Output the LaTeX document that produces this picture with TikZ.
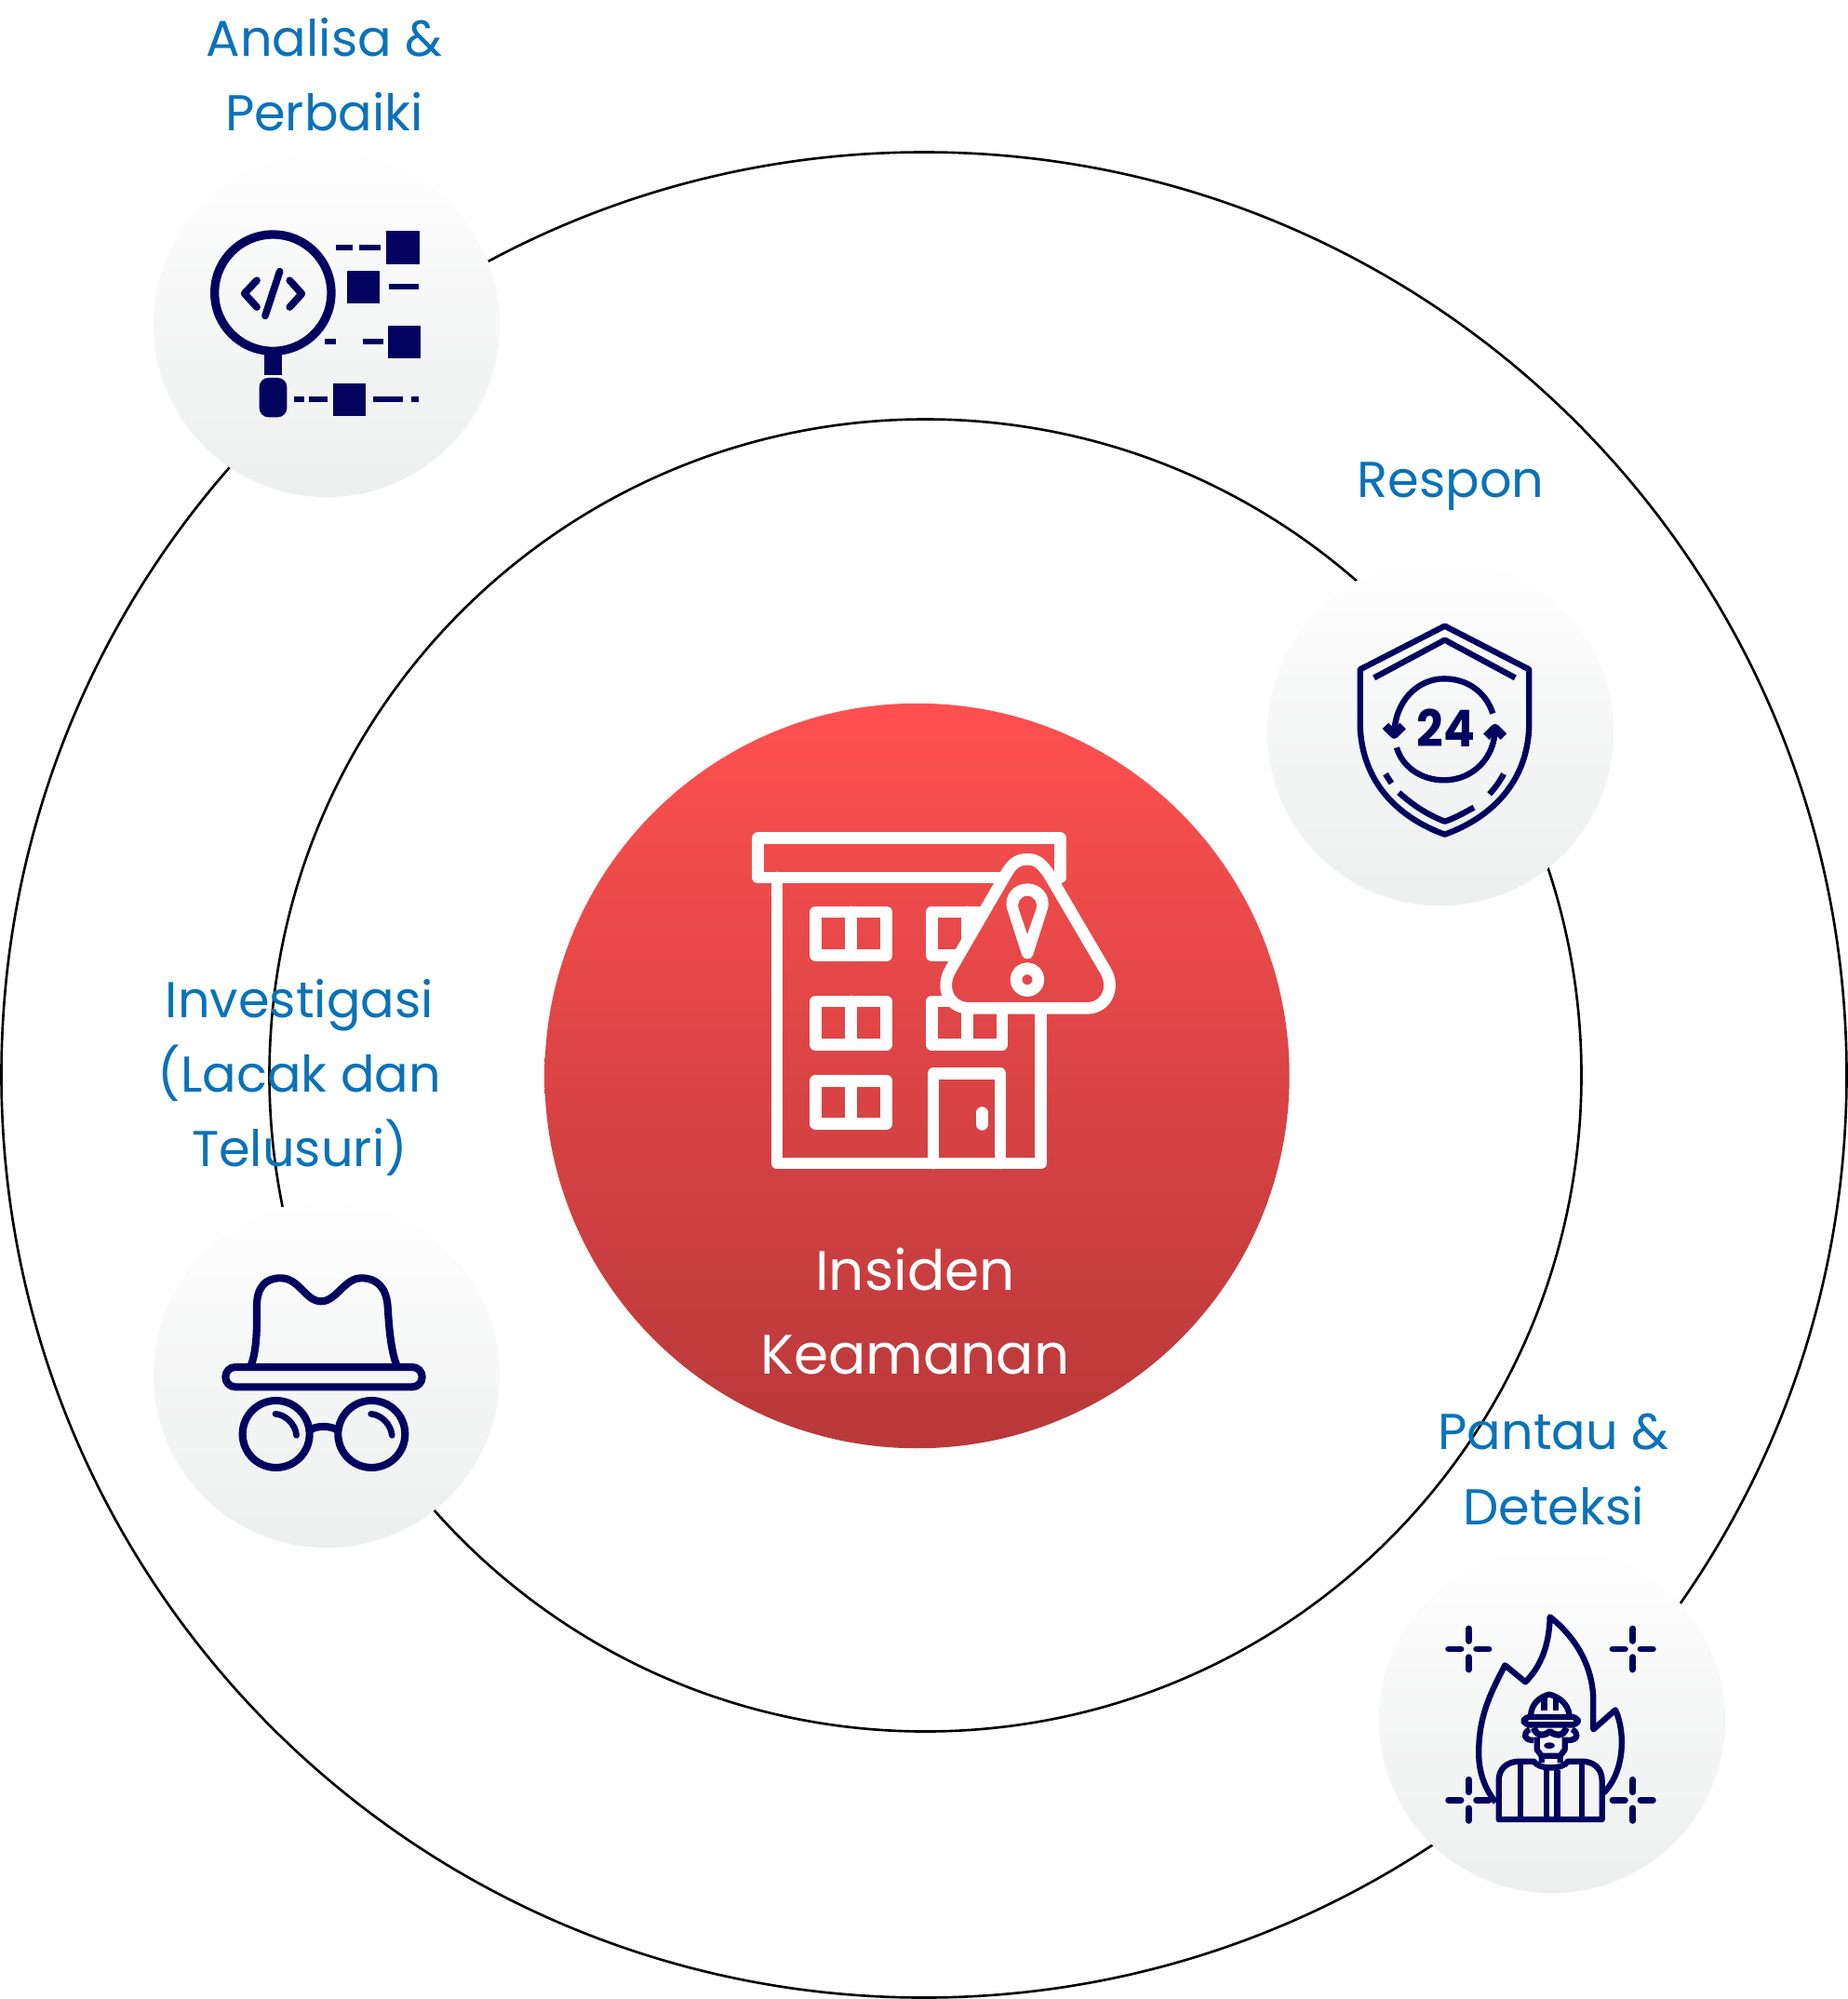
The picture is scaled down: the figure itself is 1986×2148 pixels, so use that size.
\documentclass[tikz,border=0pt]{standalone}
\usepackage{fontspec}
\setmainfont{Poppins}
\newfontfamily\hoursfont[FakeStretch=0.92]{Poppins}
\usetikzlibrary{positioning}
\definecolor{iconnavy}{HTML}{03035F}
\definecolor{labelblue}{HTML}{0A72B9}
\definecolor{redtop}{RGB}{255,80,80}
\definecolor{redbot}{RGB}{184,56,58}
\definecolor{tritop}{RGB}{240,75,75}
\definecolor{tribot}{RGB}{226,70,71}
\definecolor{badgetop}{HTML}{FEFEFE}
\definecolor{badgebot}{HTML}{EDEEEE}

\begin{document}
\begin{tikzpicture}[x=0.01cm, y=-0.01cm,
    ringline/.style={draw=black, line width=0.75pt},
    badge/.style={circle, minimum size=3.72cm, inner sep=0pt, top color=badgetop, bottom color=badgebot},
    steplabel/.style={text=labelblue, align=center, font=\fontsize{15.4}{22.8}\selectfont},
    bldg/.style={draw=white, line width=3.6pt, line join=round, line cap=round},
    navyfill/.style={fill=iconnavy, draw=none},
    navyline/.style={draw=iconnavy, line width=#1, line join=round},
    navyline/.default=1.8pt]
    \useasboundingbox (0,0) rectangle (1986,2148);

    % Rings
    \draw[ringline] (993,1155) circle (991.5);
    \draw[ringline] (994.5,1155.5) circle (705);

    % Objects
    \node[circle, minimum size=8cm, inner sep=0pt, top color=redtop, bottom color=redbot] (incident) at (985.5,1156) {};
    \node[badge] (analisa) at (351,348) {};
    \node[badge] (respon) at (1548,787) {};
    \node[badge] (investigasi) at (351,1477) {};
    \node[badge] (pantau) at (1668,1848) {};

    % Labels
    \node[steplabel] (analisalabel) at (348.5,80.5) {Analisa \&\\Perbaiki};
    \node[steplabel] (responlabel) at (1559,523) {Respon};
    \node[steplabel] (investigasilabel) at (322,1158) {Investigasi\\(Lacak dan\\Telusuri)};
    \node[steplabel] (pantaulabel) at (1669.5,1579) {Pantau \&\\Deteksi};
    \node[text=white, align=center, font=\fontsize{17}{25.6}\selectfont] (incidentlabel) at (983.5,1409) {Insiden\\Keamanan};

    % Building
    \begin{scope}[shift={(780,860)}, scale=0.3333]
        \draw[bldg] (104,122) rectangle (1078,249);
        \draw[bldg] (165,249) -- (165,1170) -- (1016,1170) -- (1016,600);
        \foreach \wy in {360,648,904}
            \draw[bldg] (290,\wy) rectangle (518,\wy+139) (404,\wy) -- (404,\wy+139);
        \foreach \wy in {360,648}
            \draw[bldg] (664,\wy) rectangle (891,\wy+139) (778,\wy) -- (778,\wy+139);
        \draw[bldg] (669,1170) -- (669,881) -- (885,881) -- (885,1170);
        \draw[bldg] (826,1007) -- (826,1045);
        % Warning sign
        \draw[bldg, top color=tritop, bottom color=tribot] (1040,235) .. controls (1015,200) and (1000,190) .. (972,190)
            .. controls (945,190) and (925,200) .. (905,235) -- (725,545)
            .. controls (690,605) and (720,670) .. (785,670) -- (1165,670)
            .. controls (1225,670) and (1260,605) .. (1222,545) -- cycle;
        \fill[white, even odd rule] (972,268) .. controls (1015,268) and (1050,305) .. (1038,350) -- (990,500)
            .. controls (985,515) and (960,515) .. (955,500) -- (907,350) .. controls (895,305) and (930,268) .. (972,268)
            (972,308) .. controls (995,308) and (1008,330) .. (1000,352) -- (972,432) -- (945,352)
            .. controls (937,330) and (950,308) .. (972,308);
        \draw[bldg] (972,578) circle (36);
    \end{scope}

    % Magnifier icon
    \begin{scope}[shift={(140,150)}, scale=0.3333]
        \draw[navyline=2.65pt] (460,494) circle (188);
        \fill[navyfill] (431,690) rectangle (490,760);
        \fill[navyfill, rounded corners=2.8pt] (416,768) rectangle (505,895);
        \draw[navyline=2.2pt, line cap=round] (408,454) -- (368,496) -- (408,540);
        \draw[navyline=2.2pt, line cap=round] (514,454) -- (553,497) -- (514,540);
        \draw[navyline=2.2pt, line cap=round] (482,425) -- (435,568);
        \foreach \sx/\sy in {826/295,698/423,830/599,653/785}
            \fill[navyfill] (\sx,\sy) rectangle (\sx+107,\sy+106);
        \foreach \dl/\dr/\dy in {663/716/348,737/808/348,835/931/475,626/663/651,751/816/651,529/561/837,577/635/837,784/880/837,906/931/837}
            \fill[navyfill] (\dl,\dy-9.5) rectangle (\dr,\dy+9.5);
    \end{scope}

    % Shield icon
    \begin{scope}[shift={(1340,600)}, scale=0.3333]
        \draw[navyline] (638,218) -- (910,358) -- (910,540) .. controls (905,720) and (790,835) .. (638,890)
            .. controls (486,835) and (371,720) .. (365,540) -- (365,358) -- cycle;
        \draw[navyline] (410,385) -- (638,263) -- (865,385);
        \draw[navyline] (490,755) .. controls (540,800) and (590,830) .. (638,848) .. controls (670,838) and (700,820) .. (732,803);
        \draw[navyline] (447,695) -- (466,725);
        \draw[navyline] (828,695) .. controls (815,720) and (800,740) .. (782,760);
        \draw[navyline] (793,500) .. controls (770,430) and (710,388) .. (636,388) .. controls (550,388) and (478,460) .. (475,565);
        \draw[navyline] (483,610) .. controls (500,670) and (560,715) .. (636,715) .. controls (730,715) and (800,640) .. (800,550);
        \draw[navyline=2.6pt] (447,540) -- (475,568) -- (503,540);
        \draw[navyline=2.6pt] (772,575) -- (800,547) -- (828,575);
        \node[text=iconnavy, font=\fontsize{15.5}{16}\hoursfont\bfseries\selectfont, inner sep=0pt] (shieldhours) at (642,546) {24};
    \end{scope}

    % Hat icon
    \begin{scope}[shift={(200,1340)}, scale=0.3333]
        \draw[navyline=2.3pt] (208,385) .. controls (230,330) and (228,250) .. (228,190)
            .. controls (228,130) and (255,100) .. (305,100) .. controls (365,100) and (385,175) .. (435,175)
            .. controls (485,175) and (510,100) .. (565,100) .. controls (615,100) and (645,130) .. (650,190)
            .. controls (655,270) and (660,330) .. (680,385);
        \draw[navyline=2.3pt, rounded corners=3pt] (127,387) rectangle (761,451);
        \draw[navyline=2.3pt] (290,603) circle (108);
        \draw[navyline=2.3pt] (598,603) circle (108);
        \draw[navyline=2.3pt] (400,590) .. controls (420,575) and (465,575) .. (488,590);
        \foreach \gx in {0,308}
            \draw[navyline=1.9pt, line cap=round] (\gx+288,538) .. controls (\gx+320,540) and (\gx+352,570) .. (\gx+356,607);
    \end{scope}

    % Firefighter icon
    \begin{scope}[shift={(1520,1710)}, scale=0.3333]
        \draw[navyline] (262,680) .. controls (215,620) and (205,560) .. (208,500) .. controls (212,390) and (250,320) .. (292,238)
            -- (358,292) .. controls (410,240) and (435,170) .. (437,82) .. controls (510,140) and (575,230) .. (577,350)
            -- (577,445) -- (648,382) .. controls (680,450) and (680,580) .. (610,650);
        \foreach \px/\py in {175/186,704/186,175/673,704/673}
            \draw[navyline=1.95pt, line cap=round] (\px,\py-66) -- (\px,\py-26) (\px,\py+26) -- (\px,\py+66)
                (\px-65,\py) -- (\px-25,\py) (\px+25,\py) -- (\px+65,\py);
        \draw[navyline, fill=white!96!black] (272,735) -- (272,610) .. controls (272,570) and (300,548) .. (340,548) -- (385,548)
            .. controls (400,575) and (480,575) .. (495,548) -- (540,548) .. controls (577,548) and (605,570) .. (605,610) -- (605,735) -- cycle;
        \foreach \bx/\by in {342/548,425/575,460/575,540/548}
            \draw[navyline] (\bx,\by) -- (\bx,735);
        \draw[navyline] (395,470) -- (395,510) -- (410,530) -- (410,552) (485,470) -- (485,510) -- (470,530) -- (470,552) (410,530) -- (470,530);
        \fill[navyfill] (435,497) ellipse (18 and 10);
        \draw[navyline] (372,445) .. controls (350,455) and (350,480) .. (385,480);
        \draw[navyline] (508,445) .. controls (530,455) and (530,480) .. (495,480);
        \draw[navyline=2pt] (385,440) .. controls (395,470) and (420,465) .. (437,452) .. controls (455,465) and (480,470) .. (490,440);
        \draw[navyline] (375,400) .. controls (378,360) and (405,340) .. (435,332) .. controls (465,340) and (495,360) .. (500,400);
        \draw[navyline] (418,340) -- (418,385) (455,340) -- (455,385);
        \draw[navyline, rounded corners=1.5pt] (353,405) rectangle (527,430);
    \end{scope}
\end{tikzpicture}
\end{document}
